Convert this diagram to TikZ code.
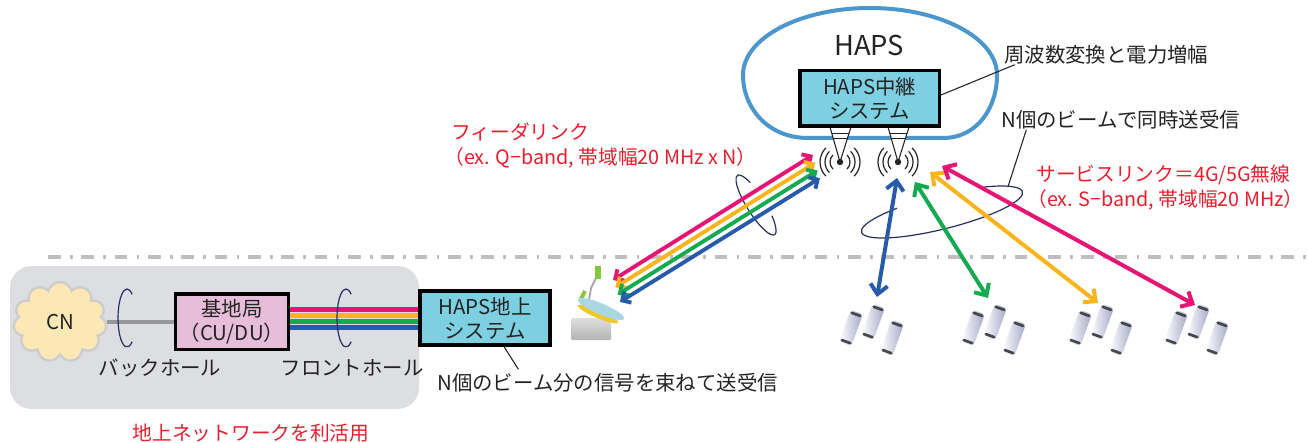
\documentclass[tikz,border=0pt]{standalone}
\usepackage{fontspec}
\setmainfont{Noto Sans CJK JP}
\usetikzlibrary{arrows.meta}
\usetikzlibrary{shapes.symbols}
\definecolor{ink}{RGB}{35,35,35}
\definecolor{lpink}{RGB}{230,20,115}
\definecolor{lorange}{RGB}{250,180,30}
\definecolor{lgreen}{RGB}{20,170,80}
\definecolor{lblue}{RGB}{40,90,170}
\definecolor{ringc}{RGB}{40,45,100}
\definecolor{notered}{RGB}{230,30,45}
\definecolor{boxblue}{RGB}{125,207,226}
\definecolor{boxpink}{RGB}{230,190,218}
\definecolor{hapsblue}{RGB}{75,150,205}
\definecolor{groundgray}{RGB}{221,222,225}
\definecolor{cloudfill}{RGB}{252,232,180}
\definecolor{cloudline}{RGB}{205,205,205}
\definecolor{bhgray}{RGB}{150,150,155}
\definecolor{phoneshade}{RGB}{165,168,200}
\definecolor{phonecap}{RGB}{70,70,75}
\definecolor{dishblue}{RGB}{170,215,228}
\definecolor{dishyellow}{RGB}{240,200,40}
\definecolor{armgreen}{RGB}{130,200,60}
\tikzset{>=latex}
\tikzset{every node/.style={font=\fontsize{15.3}{18}\selectfont, text=ink}}
\tikzset{sysbox/.style={draw=black, line width=2.3pt, fill=boxblue, align=center,
  minimum width=97.5pt, minimum height=40.5pt}}
\tikzset{note/.style={anchor=west, inner sep=0pt}}
\tikzset{rednote/.style={note, text=notered, font=\fontsize{14.8}{18}\selectfont}}
\tikzset{leader/.style={draw=ink, line width=0.8pt}}
\tikzset{ring/.style={draw=ringc, line width=0.9pt}}
\tikzset{wave/.style={draw=ink, line width=0.9pt}}
\tikzset{fronthaul/.style={line width=3.4pt}}
\tikzset{feed/.style={line width=2.9pt,
  arrows={Straight Barb[length=5pt,width=10pt]-Straight Barb[length=5pt,width=10pt]}}}
\tikzset{serv/.style={line width=3pt,
  arrows={Straight Barb[length=7pt,width=13pt]-Straight Barb[length=7pt,width=13pt]}}}
\tikzset{handset/.pic={
  \shade[left color=white, right color=phoneshade, rounded corners=2.5pt]
    (-6.5,-17) rectangle (6.5,17);
  \draw[phonecap, line width=2pt, line cap=round] (-4.5,-14.5) -- (4.5,-14.5) (-4.5,14.5) -- (4.5,14.5);
}}
\tikzset{phones/.pic={
  \pic[rotate=-20] at (-22,6) {handset};
  \pic[rotate=-20] at (0,0) {handset};
  \pic[rotate=-20] at (19,16) {handset};
}}

\begin{document}
\begin{tikzpicture}[x=0.75pt, y=-0.75pt]
    \useasboundingbox (0,0) rectangle (1308,442);
    % ground network
    \fill[groundgray, rounded corners=16pt] (10,266) rectangle (419,409);
    \draw[gray!50, line width=2.3pt, dash pattern=on 9.5pt off 7pt on 2pt off 6.5pt] (48,257) -- (1308,257);
    \node[cloud, cloud puffs=11, aspect=1.2, fill=cloudfill, draw=cloudline, line width=1.8pt,
      minimum width=70pt, minimum height=60pt, inner sep=0pt] (cn) at (60,322) {CN};
    \node[sysbox, fill=boxpink, minimum width=82.5pt, minimum height=41.3pt] (bs) at (232,321.5) {基地局\\（CU/DU）};
    \node[sysbox] (gs) at (485,318) {HAPS地上\\システム};
    \draw[bhgray, line width=3pt] (cn.east) -- (bs.west |- cn.east);
    \foreach \c/\y in {lpink/309.3, lorange/315.4, lgreen/321.5, lblue/327.6}
        \draw[fronthaul, \c] (bs.east |- 0,\y) -- (gs.west |- 0,\y);
    \draw[ring] (127,318) ++(55:9 and 29) arc[start angle=55, end angle=305, x radius=9, y radius=29];
    \draw[ring] (346,318) ++(55:9 and 29) arc[start angle=55, end angle=305, x radius=9, y radius=29];
    \node (bh) at (160,368) {バックホール};
    \node (fhl) at (352,368) {フロントホール};
    \node[text=notered, font=\fontsize{14.8}{18}\selectfont] (reuse) at (251,433) {地上ネットワークを利活用};

    % HAPS
    \draw[hapsblue, line width=3pt] (808,138) -- (943,138) .. controls (977,138) and (997,108) .. (997,75)
        arc[start angle=0, end angle=-180, x radius=127, y radius=67]
        .. controls (743,108) and (768,138) .. (808,138) -- cycle;
    \node[font=\fontsize{20.5}{24}\selectfont] (haps) at (869,45) {HAPS};
    \coordinate (a1) at (840,162);
    \coordinate (a2) at (898,162);
    \foreach \a in {a1,a2} {
        \filldraw[fill=white, draw=ink, line width=0.8pt] ([shift={(-10,-35)}]\a) -- (\a) -- ([shift={(11,-35)}]\a);
        \draw[ink, line width=0.6pt] ([shift={(-8.3,-29)}]\a) -- ([shift={(9.1,-29)}]\a)
            ([shift={(-6.9,-24)}]\a) -- ([shift={(7.5,-24)}]\a);
        \fill[ink] (\a) circle[radius=3.2];
        \foreach \r in {10,15,20}
            \draw[wave] (\a) ++(-45:\r) arc[start angle=-45, end angle=45, radius=\r]
                (\a) ++(135:\r) arc[start angle=135, end angle=225, radius=\r];
    }
    \node[sysbox, minimum width=104.3pt, minimum height=41.3pt] (relay) at (869.5,98.5) {HAPS中継\\システム};

    % rings round the links
    \begin{scope}[shift={(756,205)}, rotate=-58]
        \draw[ring] (-60:35 and 9) arc[start angle=-60, end angle=231, x radius=35, y radius=9];
    \end{scope}
    \begin{scope}[shift={(942,212)}, rotate=14]
        \draw[ring] (-58:83 and 17) arc[start angle=-58, end angle=239, x radius=83, y radius=17];
        \coordinate (sring) at (-32:83 and 17);
    \end{scope}

    % ground antenna
    \shade[top color=gray!25, bottom color=gray!60, rounded corners=1pt] (571,318) rectangle (611,340);
    \draw[gray!70, line width=1.4pt] (588,306) -- (591,288) -- (597,276);
    \draw[armgreen, line width=3pt] (580,301) -- (585,291);
    \fill[armgreen] (595,266) rectangle (601,279);
    \fill[dishyellow, rotate around={-23:(598,314)}] (598,314) ellipse[x radius=22, y radius=4];
    \fill[dishblue, rotate around={-23:(601,309)}] (601,309) ellipse[x radius=25, y radius=5.5];
    \coordinate (dish) at (613,280);

    % feeder link
    \foreach \c [count=\i from 0] in {lpink,lorange,lgreen,lblue}
        \draw[feed, \c] ([shift={(2.3*\i,7.3*\i)}]dish) -- ([shift={(-27+2.3*\i,-7+7.7*\i)}]a1);

    % service link
    \coordinate (ue1) at (877,297);
    \coordinate (ue2) at (988,298);
    \coordinate (ue3) at (1098,303);
    \coordinate (ue4) at (1195,305);
    \foreach \c/\s/\u in {lblue/{-1,16}/1, lgreen/{17,20}/2, lorange/{32,10}/3, lpink/{44,4}/4}
        \draw[serv, \c] ([shift={(\s)}]a2) -- (ue\u);
    \foreach \x in {873,995,1102,1198}
        \pic at (\x,322) {phones};

    % labels
    \node[rednote] (feedtitle) at (451,132) {フィーダリンク};
    \node[rednote] (feednote) at (444,158) {（ex. Q−band, 帯域幅20 MHz x N）};
    \node[rednote] (servtitle) at (1036,175) {サービスリンク＝4G/5G無線};
    \node[rednote] (servnote) at (1027,200) {（ex. S−band, 帯域幅20 MHz）};
    \node[note] (freqnote) at (1004,55) {周波数変換と電力増幅};
    \node[note] (beamnote) at (1001,120) {N個のビームで同時送受信};
    \node[note] (bundlenote) at (437,383) {N個のビーム分の信号を束ねて送受信};
    \draw[leader] ([yshift=2.5pt]relay.east) -- ([xshift=8pt]freqnote.south west);
    \draw[leader] ([xshift=19pt]beamnote.south west) -- (sring);
    \draw[leader] (gs.south -| 504,0) -- ([shift={(61pt,3pt)}]bundlenote.north west);
\end{tikzpicture}
\end{document}
